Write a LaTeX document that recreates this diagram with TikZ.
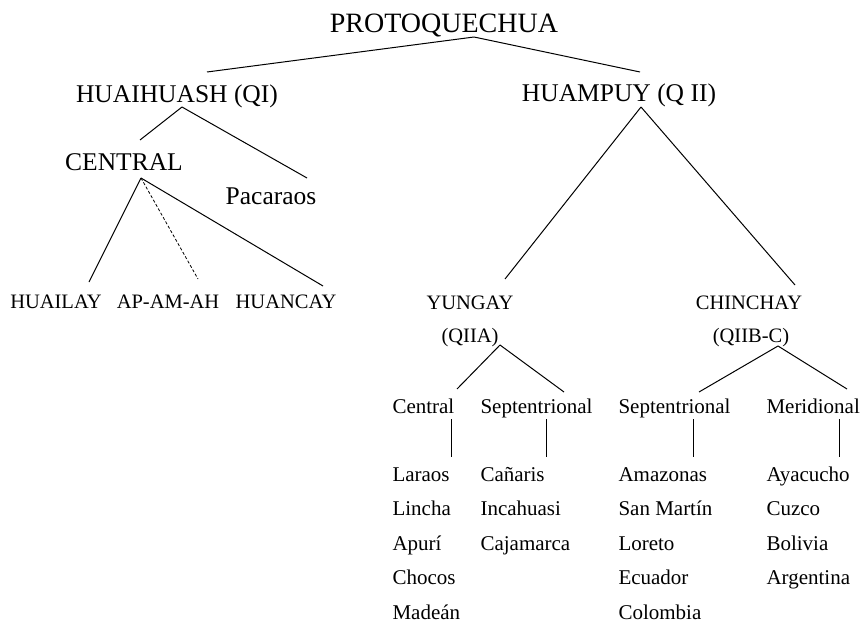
\documentclass[tikz,border=0pt]{standalone}
\usepackage{fontspec}
\setmainfont{Liberation Serif}
\usetikzlibrary{calc}
\begin{document}
\begin{tikzpicture}[x=1pt,y=-1pt,line width=1pt]
\tikzstyle{rootlab}=[inner sep=0pt,anchor=base,font=\fontsize{28}{32}\selectfont]
\tikzstyle{grouplab}=[inner sep=0pt,anchor=base,font=\fontsize{25.5}{30}\selectfont]
\tikzstyle{sublab}=[inner sep=0pt,anchor=base,font=\fontsize{20.5}{24}\selectfont]
\tikzstyle{leaf}=[inner sep=0pt,anchor=base west,font=\fontsize{21}{24}\selectfont]
\useasboundingbox (0,0) rectangle (866,629);
% upper levels
\node [rootlab] (proto) at (444,32) {PROTOQUECHUA};
\node [grouplab] (huai) at (177,102) {HUAIHUASH (QI)};
\node [grouplab] (huam) at (619,101) {HUAMPUY (Q II)};
\node [grouplab] (centr) at (124,170) {CENTRAL};
\node [grouplab] (paca) at (271,204) {Pacaraos};
\node [sublab] (hlay) at (56,308) {HUAILAY};
\node [sublab] (apam) at (168,308) {AP-AM-AH};
\node [sublab] (hcay) at (286,308) {HUANCAY};
\node [sublab] (yung) at (470,309) {YUNGAY};
\node [sublab] (qiia) at (470,342) {(QIIA)};
\node [sublab] (chin) at (749,309) {CHINCHAY};
\node [sublab] (qiib) at (751,342) {(QIIB-C)};
% dialect columns
\node [leaf] (rcen) at (392,413) {Central};
\node [leaf] (rsepa) at (480,413) {Septentrional};
\node [leaf] (rsepb) at (618,413) {Septentrional};
\node [leaf] (rmer) at (766,413) {Meridional};
\foreach \t [count=\i] in {Laraos,Lincha,Apurí,Chocos,Madeán}
  \node [leaf] (lcen\i) at (392,{481+34.5*(\i-1)}) {\t};
\foreach \t [count=\i] in {Cañaris,Incahuasi,Cajamarca}
  \node [leaf] (lsepa\i) at (480,{481+34.5*(\i-1)}) {\t};
\foreach \t [count=\i] in {Amazonas,San Martín,Loreto,Ecuador,Colombia}
  \node [leaf] (lsepb\i) at (618,{481+34.5*(\i-1)}) {\t};
\foreach \t [count=\i] in {Ayacucho,Cuzco,Bolivia,Argentina}
  \node [leaf] (lmer\i) at (766,{481+34.5*(\i-1)}) {\t};
% branches
\draw ($(proto.base)+(30,5)$) -- ($(huai.base)+(30,-30)$);
\draw ($(proto.base)+(30,5)$) -- ($(huam.base)+(21,-29)$);
\draw ($(huai.base)+(5,5)$) -- ($(centr.base)+(16,-30)$);
\draw ($(huai.base)+(5,5)$) -- ($(paca.base)+(36,-26)$);
\draw ($(centr.base)+(17,8)$) -- ($(hlay.base)+(33,-26)$);
\draw [line width=0.8pt,dash pattern=on 3pt off 2pt] ($(centr.base)+(17,8)$) -- ($(apam.base)+(30,-29)$);
\draw ($(centr.base)+(17,8)$) -- ($(hcay.base)+(37,-22)$);
\draw ($(huam.base)+(22,6)$) -- ($(yung.base)+(35,-30)$);
\draw ($(huam.base)+(22,6)$) -- ($(chin.base)+(46,-24)$);
\draw ($(qiia.base)+(30,3)$) -- ($(rcen.base west)+(65,-24)$);
\draw ($(qiia.base)+(30,3)$) -- ($(rsepa.base west)+(84,-21)$);
\draw ($(qiib.base)+(27,4)$) -- ($(rsepb.base west)+(81,-21)$);
\draw ($(qiib.base)+(27,4)$) -- ($(rmer.base west)+(81,-24)$);
\draw ($(rcen.base west)+(59,6)$) -- ($(lcen1.base west)+(59,-24)$);
\draw ($(rsepa.base west)+(66,6)$) -- ($(lsepa1.base west)+(66,-24)$);
\draw ($(rsepb.base west)+(75,6)$) -- ($(lsepb1.base west)+(75,-24)$);
\draw ($(rmer.base west)+(73,6)$) -- ($(lmer1.base west)+(73,-24)$);
\end{tikzpicture}
\end{document}
